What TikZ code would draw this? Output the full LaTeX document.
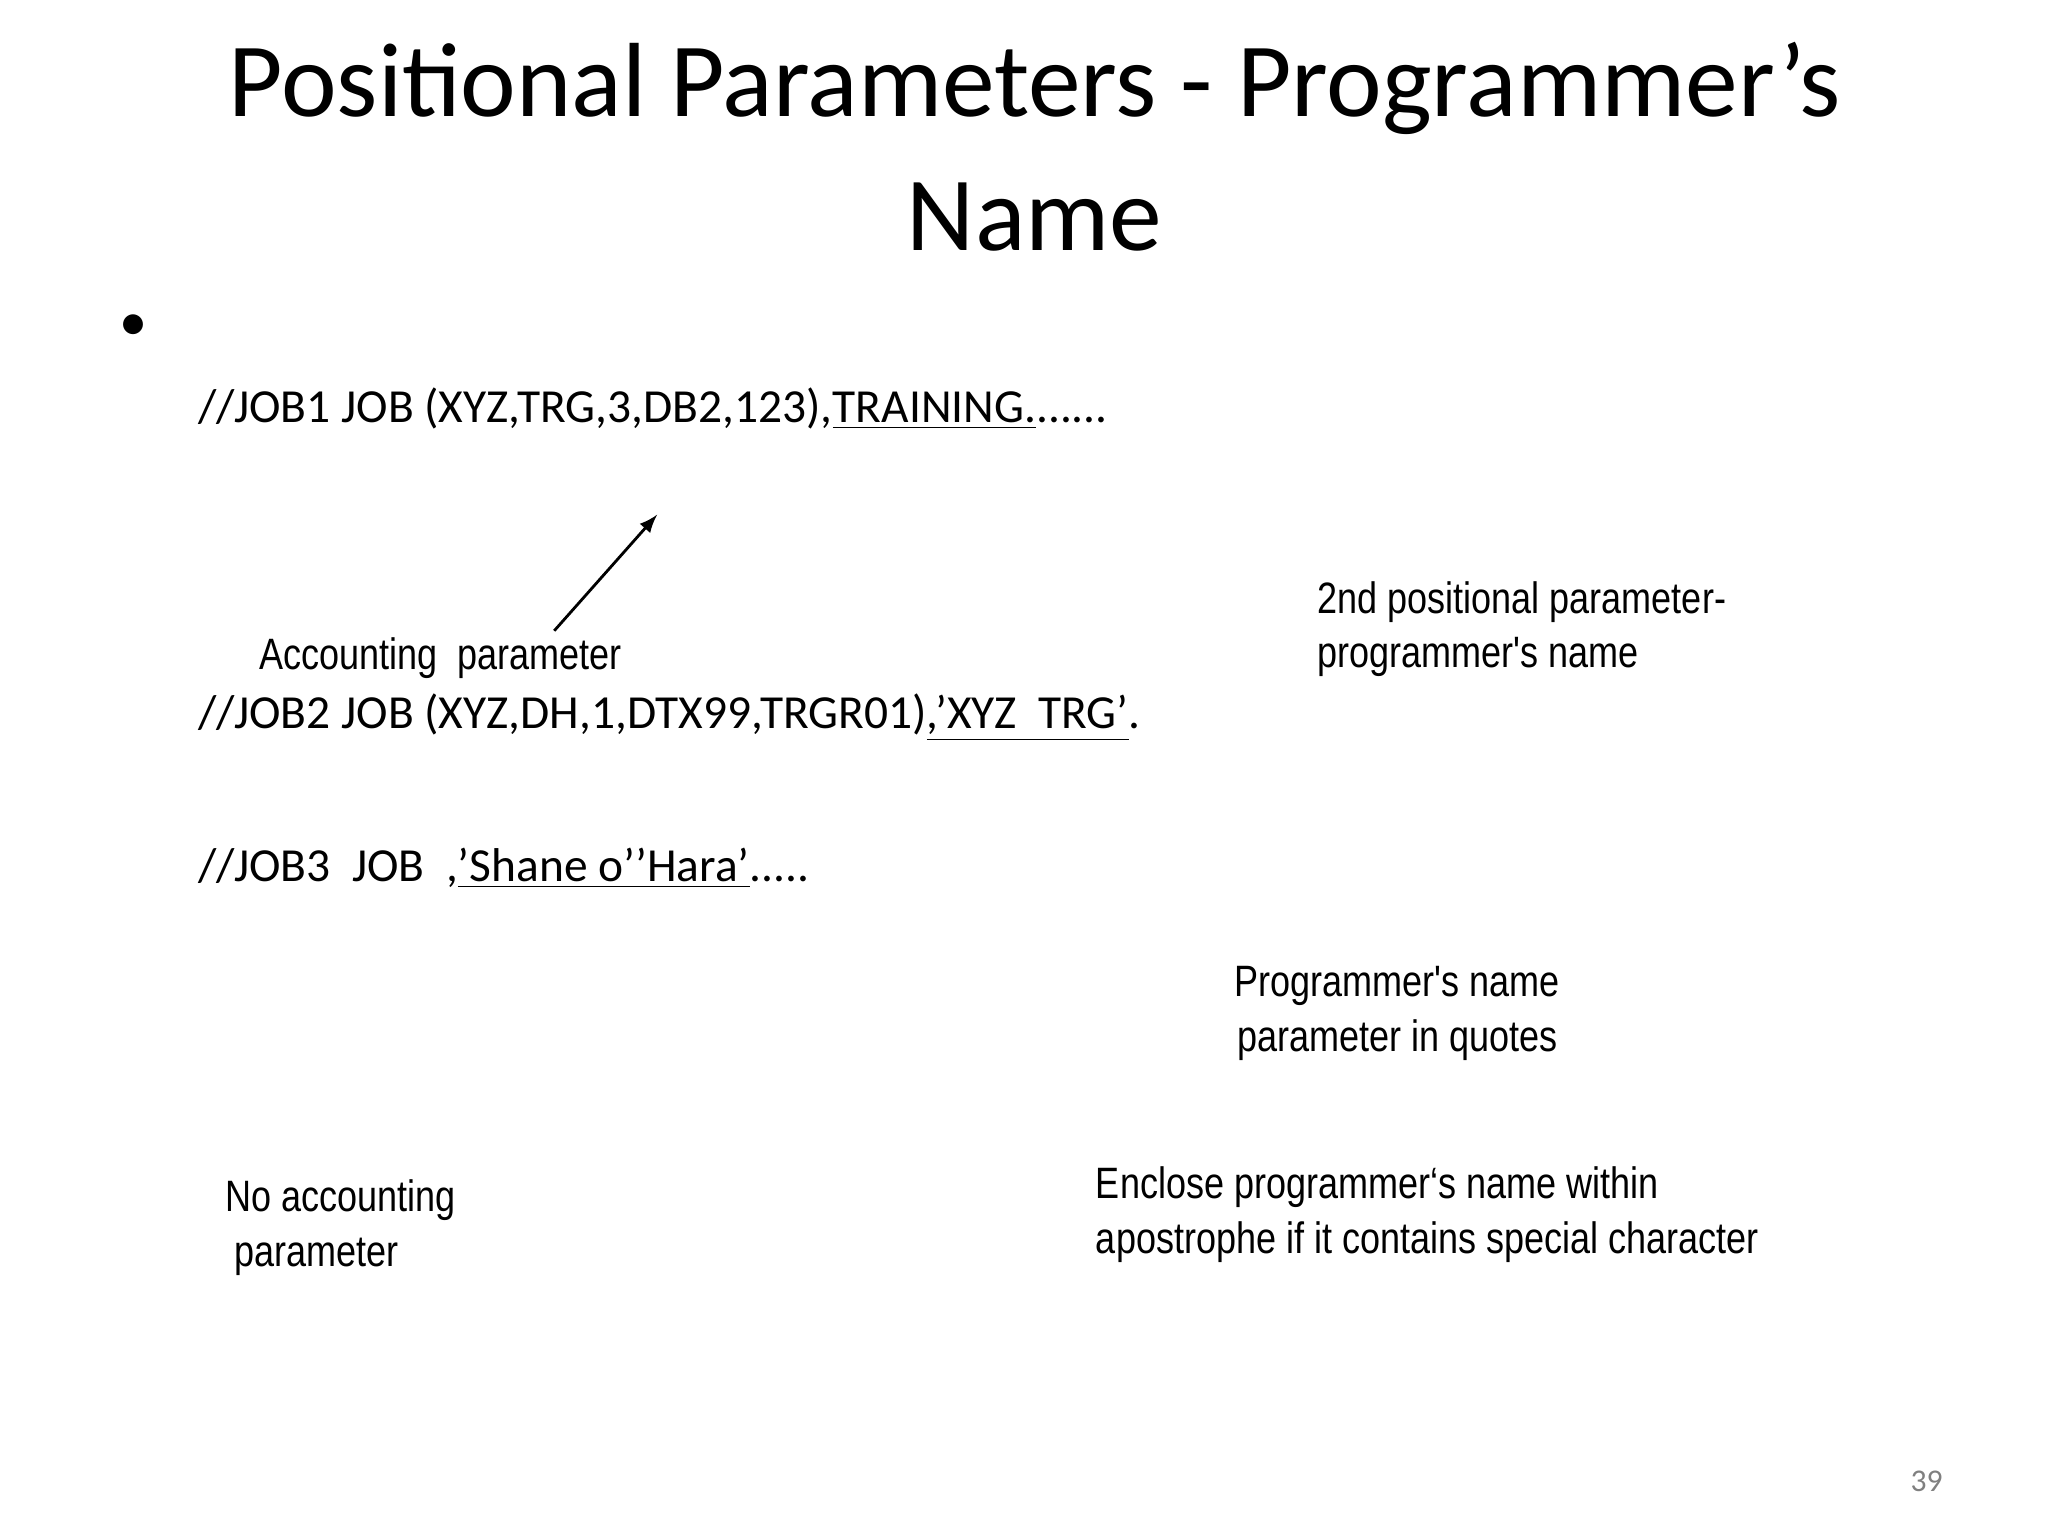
\documentclass[tikz,border=0pt]{standalone}
\usepackage{fontspec}
\setmainfont{Carlito}
\newfontfamily\ann[FakeStretch=0.82]{Liberation Sans}
\begin{document}
\begin{tikzpicture}[x=0.013196cm,y=-0.013196cm,
  code/.style={anchor=base west,inner sep=0pt,font=\fontsize{13.5}{16}\selectfont},
  note/.style={anchor=base west,inner sep=0pt,font=\ann\fontsize{12.5}{15}\selectfont,align=left},
  title/.style={anchor=base,inner sep=0pt,font=\fontsize{30}{36}\selectfont}]
\useasboundingbox (0,0) rectangle (1552,1164);
\node[title] (t1) at (784,88) {Positional Parameters - Programmer’s};
\node[title] (t2) at (784,190) {Name};
\node[anchor=base,inner sep=0pt,font=\fontsize{16}{16}\selectfont] (b) at (101,258) {•};
\node[code] (j1) at (150,320) {//JOB1 JOB (XYZ,TRG,3,DB2,123),\underline{TRAINING.}......};
\node[code] (j2) at (150,552) {//JOB2 JOB (XYZ,DH,1,DTX99,TRGR01)\underline{,’XYZ\ \ TRG’}.};
\node[code] (j3) at (150,668) {//JOB3\ \ JOB\ \ ,\underline{’Shane o’’Hara’}.....};
\node[note] (a1) at (196,507) {Accounting\ \ parameter};
\coordinate (ah) at (498,390);
\draw[-latex,thick] (420,478) -- (ah);
\node[note] (a2) at (998,465) {2nd positional parameter-};
\node[note] (a3) at (998,506) {programmer's name};
\node[note] (a4) at (935,755) {Programmer's name};
\node[note] (a5) at (937,797) {parameter in quotes};
\node[note] (a6) at (170,918) {No accounting};
\node[note] (a7) at (177,960) {parameter};
\node[note] (a8) at (830,908) {Enclose programmer‘s name within};
\node[note] (a9) at (830,950) {apostrophe if it contains special character};
\node[anchor=base,inner sep=0pt,text=gray,font=\fontsize{9}{10}\selectfont] (pg) at (1460,1130) {39};
\end{tikzpicture}
\end{document}
